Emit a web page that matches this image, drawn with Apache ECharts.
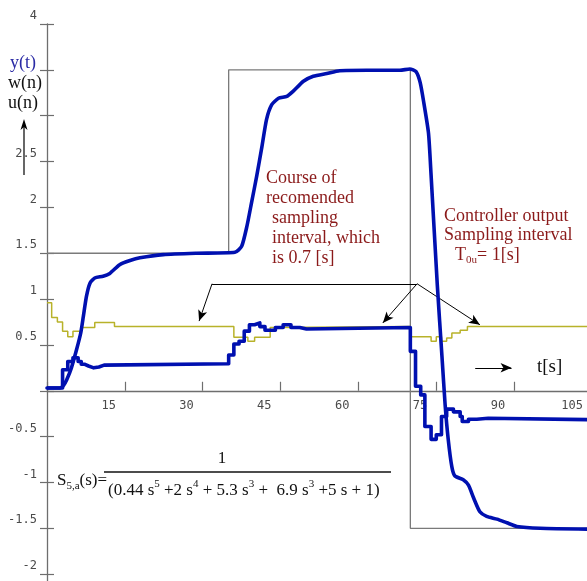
<!DOCTYPE html>
<html>
<head>
<meta charset="utf-8">
<script src="https://cdn.jsdelivr.net/npm/echarts@6/dist/echarts.min.js"></script>
<style>
html,body{margin:0;padding:0;background:#fff;}
#chart{width:587px;height:581px;}
</style>
</head>
<body>
<div id="chart"></div>
<script>
// w(n): set-point (value holds from t until the next point)
const setpointW = [[0,1.5],[35,3.5],[70,-1.5],[105,-1.5]];
// recommended sampling interval (step)
const samplingInterval = [[0,0.96],[0.9,0.80],[2,0.75],[3,0.65],[4,0.59],[5,0.65],[6.6,0.69],[9.2,0.745],[13,0.70],
  [36,0.585],[38.7,0.54],[40,0.585],[43,0.69],[44,0.70],[70,0.59],[74,0.54],[75,0.59],[76,0.54],[77,0.575],
  [78,0.63],[79.6,0.66],[81,0.70],[105,0.70]];
// u(n): controller output (step)
const controllerU = [[0,0.03],[3,0.23],[4,0.32],[5,0.36],[6,0.32],[6.6,0.29],[7.2,0.27],[8,0.25],[9,0.26],[10,0.28],
  [11,0.295],[35,0.39],[36,0.51],[37,0.54],[38,0.65],[39,0.72],[40,0.74],[41,0.70],[42,0.66],[44,0.69],[45.5,0.72],
  [47,0.69],[48.7,0.673],[50,0.69],[70,0.43],[71,0.05],[72,-0.045],[72.8,-0.39],[74,-0.53],[75,-0.48],[76,-0.28],
  [77,-0.2],[78.3,-0.23],[79.6,-0.28],[80,-0.335],[81.2,-0.31],[82.8,-0.3],[85,-0.316],[105,-0.316]];
// y(t): process output
const outputY = [[0,0.03],[2.5,0.03],[3.2,0.06],[3.8,0.12],[4.7,0.25],[5.7,0.45],[6.5,0.63],[7.0,0.81],[7.6,1.03],
  [8.3,1.175],[9.2,1.23],[10.8,1.25],[12.1,1.28],[14,1.375],[16,1.42],[17.9,1.45],[22.4,1.485],[28.8,1.50],[36.2,1.51],
  [37.5,1.575],[38.5,1.79],[39.4,2.05],[40.4,2.34],[41.4,2.66],[42.3,2.96],[43.3,3.12],[44.6,3.19],[46.2,3.21],
  [47.4,3.265],[49.4,3.375],[51.3,3.43],[53.9,3.46],[56.4,3.49],[61.6,3.495],[68,3.495],[69.9,3.51],[71.1,3.48],
  [71.9,3.36],[72.6,3.14],[73.5,2.81],[74.0,2.35],[75.2,1.15],[76.1,0.37],[76.7,-0.15],[77.3,-0.53],[78,-0.83],
  [78.6,-0.93],[80.2,-0.97],[81.2,-1.03],[82.2,-1.17],[83.4,-1.32],[84.7,-1.37],[86.7,-1.40],[88.6,-1.44],
  [90.5,-1.48],[95,-1.50],[105,-1.51]];
// tick labels
const xTickLabels = ['15','30','45','60','75','90','105'];
const yTickLabels = ['4','2.5','2','1.5','1','0.5','-0.5','-1','-1.5','-2'];

const chart = echarts.init(document.getElementById('chart'), null, {renderer:'canvas'});
const axisGray = '#6e6e6e';
const tickFont = {fontFamily:'DejaVu Sans Mono', fontSize:12, color:'#4a4a4a'};
const serif = 'Liberation Serif';
const red = '#8b1a1a';
const blue = '#0010b0';

const Y_MIN = -2.5, Y_MAX = 4;
const GRID_TOP = 24, GRID_H = 596;
const zeroOffset = -(GRID_H * (0 - Y_MIN) / (Y_MAX - Y_MIN));

function arrow(a, b) {
  return [{coord:a, symbol:'none'}, {coord:b, symbol:'arrow', symbolSize:[7,11]}];
}
function plain(a, b) {
  return [{coord:a, symbol:'none'}, {coord:b, symbol:'none'}];
}
function note(x, y, text, fill, size) {
  return {type:'text', x:x, y:y, style:{text:text, fill:fill, fontSize:size || 18, fontFamily:serif, verticalAlign:'middle'}};
}

const option = {
  animation:false,
  backgroundColor:'#fff',
  grid:{left:47, top:GRID_TOP, width:545, height:GRID_H, containLabel:false, outerBoundsMode:'none'},
  xAxis:{
    type:'value', min:0, max:105, interval:15, position:'bottom', offset:zeroOffset,
    axisLine:{show:true, onZero:false, lineStyle:{color:axisGray, width:1.3}},
    axisTick:{show:true, inside:true, length:9, lineStyle:{color:axisGray, width:1.2}},
    axisLabel:Object.assign({}, tickFont, {margin:9, align:'right', padding:[0,9,0,0],
      formatter:v => xTickLabels.includes(String(v)) ? String(v) : ''}),
    splitLine:{show:false}
  },
  yAxis:[{
    type:'value', min:Y_MIN, max:Y_MAX, interval:0.5, position:'left',
    axisLine:{show:true, onZero:false, lineStyle:{color:axisGray, width:1.3}},
    axisTick:{show:true, inside:false, length:7, lineStyle:{color:axisGray, width:1.2}},
    axisLabel:Object.assign({}, tickFont, {margin:10, verticalAlign:'bottom', padding:[0,0,2,0],
      formatter:v => yTickLabels.includes(String(v)) ? String(v) : ''}),
    splitLine:{show:false}
  },{
    type:'value', min:Y_MIN, max:Y_MAX, interval:0.5, position:'left', offset:0,
    axisLine:{show:false, onZero:false},
    axisTick:{show:true, inside:true, length:7, lineStyle:{color:axisGray, width:1.2}},
    axisLabel:{show:false},
    splitLine:{show:false}
  }],
  series:[
    {name:'w(n)', type:'line', step:'end', data:setpointW, showSymbol:false,
     lineStyle:{color:'#7a7a7a', width:1.3}, z:2,
     markLine:{silent:true, animation:false, symbol:['none','arrow'],
       lineStyle:{color:'#000', width:1, type:'solid'}, label:{show:false},
       data:[
         plain([31.8,1.167],[71.3,1.167]),
         arrow([31.8,1.167],[29.3,0.76]),
         arrow([71.3,1.167],[64.7,0.74]),
         arrow([71.3,1.167],[83.4,0.72]),
         arrow([82.5,0.251],[89.5,0.251])
       ]}},
    {name:'interval', type:'line', step:'end', data:samplingInterval, showSymbol:false,
     lineStyle:{color:'#b8b22a', width:1.5}, z:3},
    {name:'u(n)', type:'line', step:'end', data:controllerU, showSymbol:false,
     lineStyle:{color:blue, width:3.6, join:'round'}, z:4},
    {name:'y(t)', type:'line', data:outputY, showSymbol:false, smooth:0.2,
     lineStyle:{color:blue, width:3.6, cap:'round', join:'round'}, z:5}
  ],
  graphic:[
    note(10, 63, 'y(t)', '#2a2aa5'),
    note(8, 83, 'w(n)', '#111'),
    note(8, 103, 'u(n)', '#111'),
    {type:'line', shape:{x1:24, y1:175, x2:24, y2:126}, style:{stroke:'#000', lineWidth:1.2}},
    {type:'polygon', shape:{points:[[24,119],[20.5,130],[24,127],[27.5,130]]}, style:{fill:'#000'}},

    note(266, 178, 'Course of', red),
    note(266, 198, 'recomended', red),
    note(272, 218, 'sampling', red),
    note(272, 238, 'interval, which', red),
    note(272, 258, 'is 0.7 [s]', red),

    note(444, 216, 'Controller output', red),
    note(444, 235, 'Sampling interval', red),
    {type:'text', x:455, y:255, style:{text:'{b|T}{s|0u}{b|= 1[s]}', fill:red, verticalAlign:'middle',
      rich:{b:{fontSize:18, fontFamily:serif, lineHeight:22}, s:{fontSize:11, fontFamily:serif, verticalAlign:'bottom', lineHeight:14}}}},

    note(537, 367, 't[s]', '#111', 19),

    {type:'text', x:57, y:481, style:{text:'{b|S}{s|5,a}{b|(s)=}', fill:'#111', verticalAlign:'middle',
      rich:{b:{fontSize:17, fontFamily:serif, lineHeight:22}, s:{fontSize:11, fontFamily:serif, verticalAlign:'bottom', lineHeight:14}}}},
    {type:'line', shape:{x1:104, y1:472, x2:391, y2:472}, style:{stroke:'#111', lineWidth:1.3}},
    {type:'text', x:222, y:459, style:{text:'1', fill:'#111', fontSize:17, fontFamily:serif, align:'center', verticalAlign:'middle'}},
    {type:'text', x:108, y:491, style:{
      text:'{b|(0.44 s}{p|5}{b| +2 s}{p|4}{b| + 5.3 s}{p|3}{b| +  6.9 s}{p|3}{b| +5 s + 1)}',
      fill:'#111', verticalAlign:'middle',
      rich:{b:{fontSize:17, fontFamily:serif, lineHeight:24}, p:{fontSize:11, fontFamily:serif, verticalAlign:'top', lineHeight:14}}}}
  ]
};
chart.setOption(option);
</script>
</body>
</html>
